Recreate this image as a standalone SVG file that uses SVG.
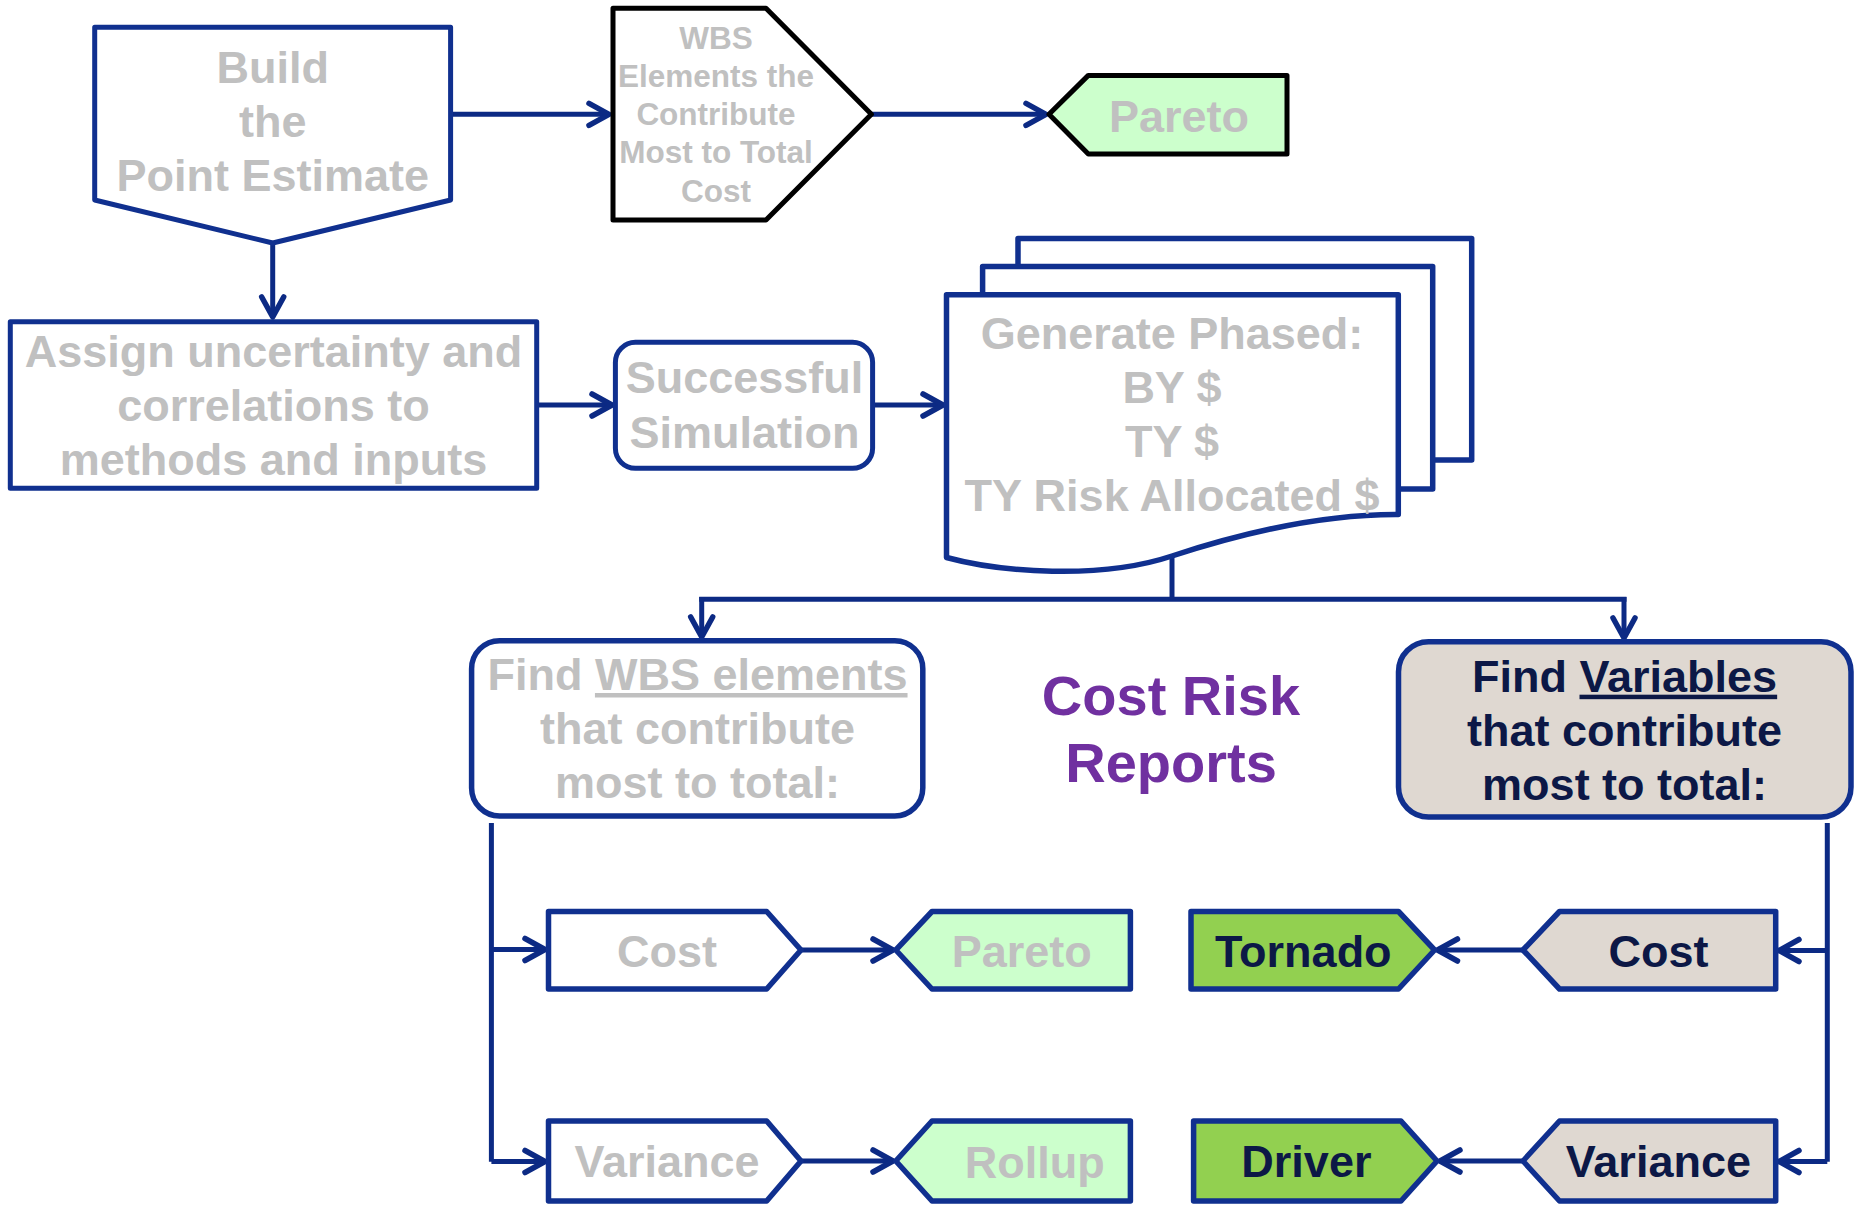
<svg xmlns="http://www.w3.org/2000/svg" width="1855" height="1207" viewBox="0 0 1855 1207">
  <defs>
    <style>
      text { font-family: "Liberation Sans", Arial, sans-serif; font-weight: bold; text-anchor: middle; }
      .t45 { font-size: 45px; }
      .t31 { font-size: 31.5px; }
      .grey { fill: #C0C0C0; }
      .navy { fill: #0C1846; }
      .purple { fill: #7030A0; font-size: 56px; }
      .box { fill: #FFFFFF; stroke: #10308F; stroke-width: 5; stroke-linejoin: round; }
      .blk { fill: #FFFFFF; stroke: #000000; stroke-width: 5; stroke-linejoin: round; }
      .blkmint { fill: #CCFFCC; stroke: #000000; stroke-width: 5; stroke-linejoin: round; }
      .mint { fill: #CCFFCC; stroke: #10308F; stroke-width: 5.5; stroke-linejoin: round; }
      .lime { fill: #92D050; stroke: #10308F; stroke-width: 5.5; stroke-linejoin: round; }
      .taupe { fill: #DFD8D1; stroke: #10308F; stroke-width: 5.5; stroke-linejoin: round; }
      .plain { fill: #FFFFFF; stroke: #10308F; stroke-width: 5.5; stroke-linejoin: round; }
      .wire { fill: none; stroke: #0C2A84; stroke-width: 5; }
      .arrow { fill: none; stroke: #0C2A84; stroke-width: 5; marker-end: url(#chev); }
    </style>
    <marker id="chev" markerUnits="userSpaceOnUse" markerWidth="30" markerHeight="30" refX="0" refY="0" orient="auto" overflow="visible">
      <path d="M-20,-11 L0,0 L-20,11" fill="none" stroke="#0C2A84" stroke-width="5.5" stroke-linecap="round" stroke-linejoin="round"/>
    </marker>
  </defs>

  <rect width="1855" height="1207" fill="#FFFFFF"/>

  <!-- connectors -->
  <g id="connectors">
    <line class="arrow" x1="451" y1="114.3" x2="609" y2="114.3"/>
    <line class="arrow" x1="871.4" y1="114.3" x2="1046" y2="114.3"/>
    <line class="arrow" x1="272.7" y1="243" x2="272.7" y2="317"/>
    <line class="arrow" x1="536.7" y1="405" x2="612" y2="405"/>
    <line class="arrow" x1="872.6" y1="405" x2="943" y2="405"/>
    <!-- fan-out from the phased output -->
    <line class="wire" x1="1172" y1="556" x2="1172" y2="599.3"/>
    <line class="wire" x1="699.2" y1="599.3" x2="1626.5" y2="599.3"/>
    <line class="arrow" x1="701.7" y1="597" x2="701.7" y2="637"/>
    <line class="arrow" x1="1624" y1="597" x2="1624" y2="638"/>
    <!-- WBS branch -->
    <polyline class="wire" points="491.4,823 491.4,1161.7"/>
    <line class="arrow" x1="491.4" y1="949.5" x2="545" y2="949.5"/>
    <line class="arrow" x1="491.4" y1="1161.5" x2="545" y2="1161.5"/>
    <line class="arrow" x1="801" y1="950" x2="893" y2="950"/>
    <line class="arrow" x1="801" y1="1161" x2="893" y2="1161"/>
    <!-- Variables branch -->
    <polyline class="wire" points="1827.3,823 1827.3,1161.7"/>
    <line class="arrow" x1="1827.3" y1="950.5" x2="1779" y2="950.5"/>
    <line class="arrow" x1="1827.3" y1="1161.5" x2="1779" y2="1161.5"/>
    <line class="arrow" x1="1523" y1="950" x2="1437.5" y2="950"/>
    <line class="arrow" x1="1523" y1="1161" x2="1440" y2="1161"/>
  </g>

  <g id="build">
    <polygon class="box" points="94.7,27.3 450.6,27.3 450.6,200 272.7,243 94.7,200"/>
    <text class="t45 grey" x="272.7" y="82.5">Build</text>
    <text class="t45 grey" x="272.7" y="136.5">the</text>
    <text class="t45 grey" x="272.7" y="190.5">Point Estimate</text>
  </g>

  <g id="wbs-elements">
    <polygon class="blk" points="613,8.3 766,8.3 871.4,114.3 766,220 613,220"/>
    <text class="t31 grey" x="716" y="48.5">WBS</text>
    <text class="t31 grey" x="716" y="86.8">Elements the</text>
    <text class="t31 grey" x="716" y="125.1">Contribute</text>
    <text class="t31 grey" x="716" y="163.4">Most to Total</text>
    <text class="t31 grey" x="716" y="201.7">Cost</text>
  </g>

  <g id="pareto-top">
    <polygon class="blkmint" points="1049,114.3 1088.3,75.4 1287,75.4 1287,154 1088.3,154"/>
    <text class="t45 grey" x="1179" y="132">Pareto</text>
  </g>

  <g id="assign">
    <rect class="box" x="10.3" y="321.7" width="526.4" height="166.6"/>
    <text class="t45 grey" x="273.5" y="366.5">Assign uncertainty and</text>
    <text class="t45 grey" x="273.5" y="420.5">correlations to</text>
    <text class="t45 grey" x="273.5" y="474.5">methods and inputs</text>
  </g>

  <g id="simulation">
    <rect class="box" x="615.4" y="342.3" width="257.2" height="126" rx="20" ry="20"/>
    <text class="t45 grey" x="744.5" y="393">Successful</text>
    <text class="t45 grey" x="744.5" y="447.5">Simulation</text>
  </g>

  <g id="generate-phased">
    <rect class="plain" x="1018" y="238.5" width="453.7" height="221.5"/>
    <rect class="plain" x="982.6" y="266.5" width="450.1" height="222.5"/>
    <path class="plain" d="M946.5,294.7 L1398.3,294.7 L1398.3,514.5 C1320,514 1236,535 1172,556 C1100,580 1000,572 946.5,557.5 Z"/>
    <text class="t45 grey" x="1172" y="349">Generate Phased:</text>
    <text class="t45 grey" x="1172" y="403.3">BY $</text>
    <text class="t45 grey" x="1172" y="457.3">TY $</text>
    <text class="t45 grey" x="1172" y="511">TY Risk Allocated $</text>
  </g>

  <g id="find-wbs">
    <rect class="plain" x="471.6" y="640.7" width="451.2" height="175.3" rx="28" ry="28"/>
    <text class="t45 grey" x="697.5" y="690">Find <tspan text-decoration="underline">WBS elements</tspan></text>
    <text class="t45 grey" x="697.5" y="744">that contribute</text>
    <text class="t45 grey" x="697.5" y="798">most to total:</text>
  </g>

  <g id="report-title">
    <text class="purple" x="1171" y="715">Cost Risk</text>
    <text class="purple" x="1171" y="781.7">Reports</text>
  </g>

  <g id="find-variables">
    <rect class="taupe" x="1398.5" y="641.7" width="452.5" height="175.3" rx="30" ry="30"/>
    <text class="t45 navy" x="1624.6" y="691.7">Find <tspan text-decoration="underline">Variables</tspan></text>
    <text class="t45 navy" x="1624.6" y="745.7">that contribute</text>
    <text class="t45 navy" x="1624.6" y="800">most to total:</text>
  </g>

  <g id="wbs-cost">
    <polygon class="plain" points="548.5,911.5 766.7,911.5 801,950 766.7,989 548.5,989"/>
    <text class="t45 grey" x="667" y="966.5">Cost</text>
  </g>
  <g id="wbs-pareto">
    <polygon class="mint" points="895.8,950 932,911.5 1130.4,911.5 1130.4,989 932,989"/>
    <text class="t45 grey" x="1021.7" y="966.5">Pareto</text>
  </g>
  <g id="wbs-variance">
    <polygon class="plain" points="548.5,1121 766.7,1121 801,1161 766.7,1201 548.5,1201"/>
    <text class="t45 grey" x="667" y="1177">Variance</text>
  </g>
  <g id="wbs-rollup">
    <polygon class="mint" points="895.8,1161 932,1121 1130.4,1121 1130.4,1201 932,1201"/>
    <text class="t45 grey" x="1034.8" y="1177.5">Rollup</text>
  </g>

  <g id="var-tornado">
    <polygon class="lime" points="1191,911.5 1398.5,911.5 1434.6,950 1398.5,989 1191,989"/>
    <text class="t45 navy" x="1303.3" y="966.5">Tornado</text>
  </g>
  <g id="var-cost">
    <polygon class="taupe" points="1523,950 1559.5,911.5 1775.7,911.5 1775.7,989 1559.5,989"/>
    <text class="t45 navy" x="1658.4" y="966.5">Cost</text>
  </g>
  <g id="var-driver">
    <polygon class="lime" points="1193.6,1121 1401,1121 1437,1161 1401,1201 1193.6,1201"/>
    <text class="t45 navy" x="1306.4" y="1177">Driver</text>
  </g>
  <g id="var-variance">
    <polygon class="taupe" points="1523,1161 1559.5,1121 1775.7,1121 1775.7,1201 1559.5,1201"/>
    <text class="t45 navy" x="1658.4" y="1177">Variance</text>
  </g>
</svg>
